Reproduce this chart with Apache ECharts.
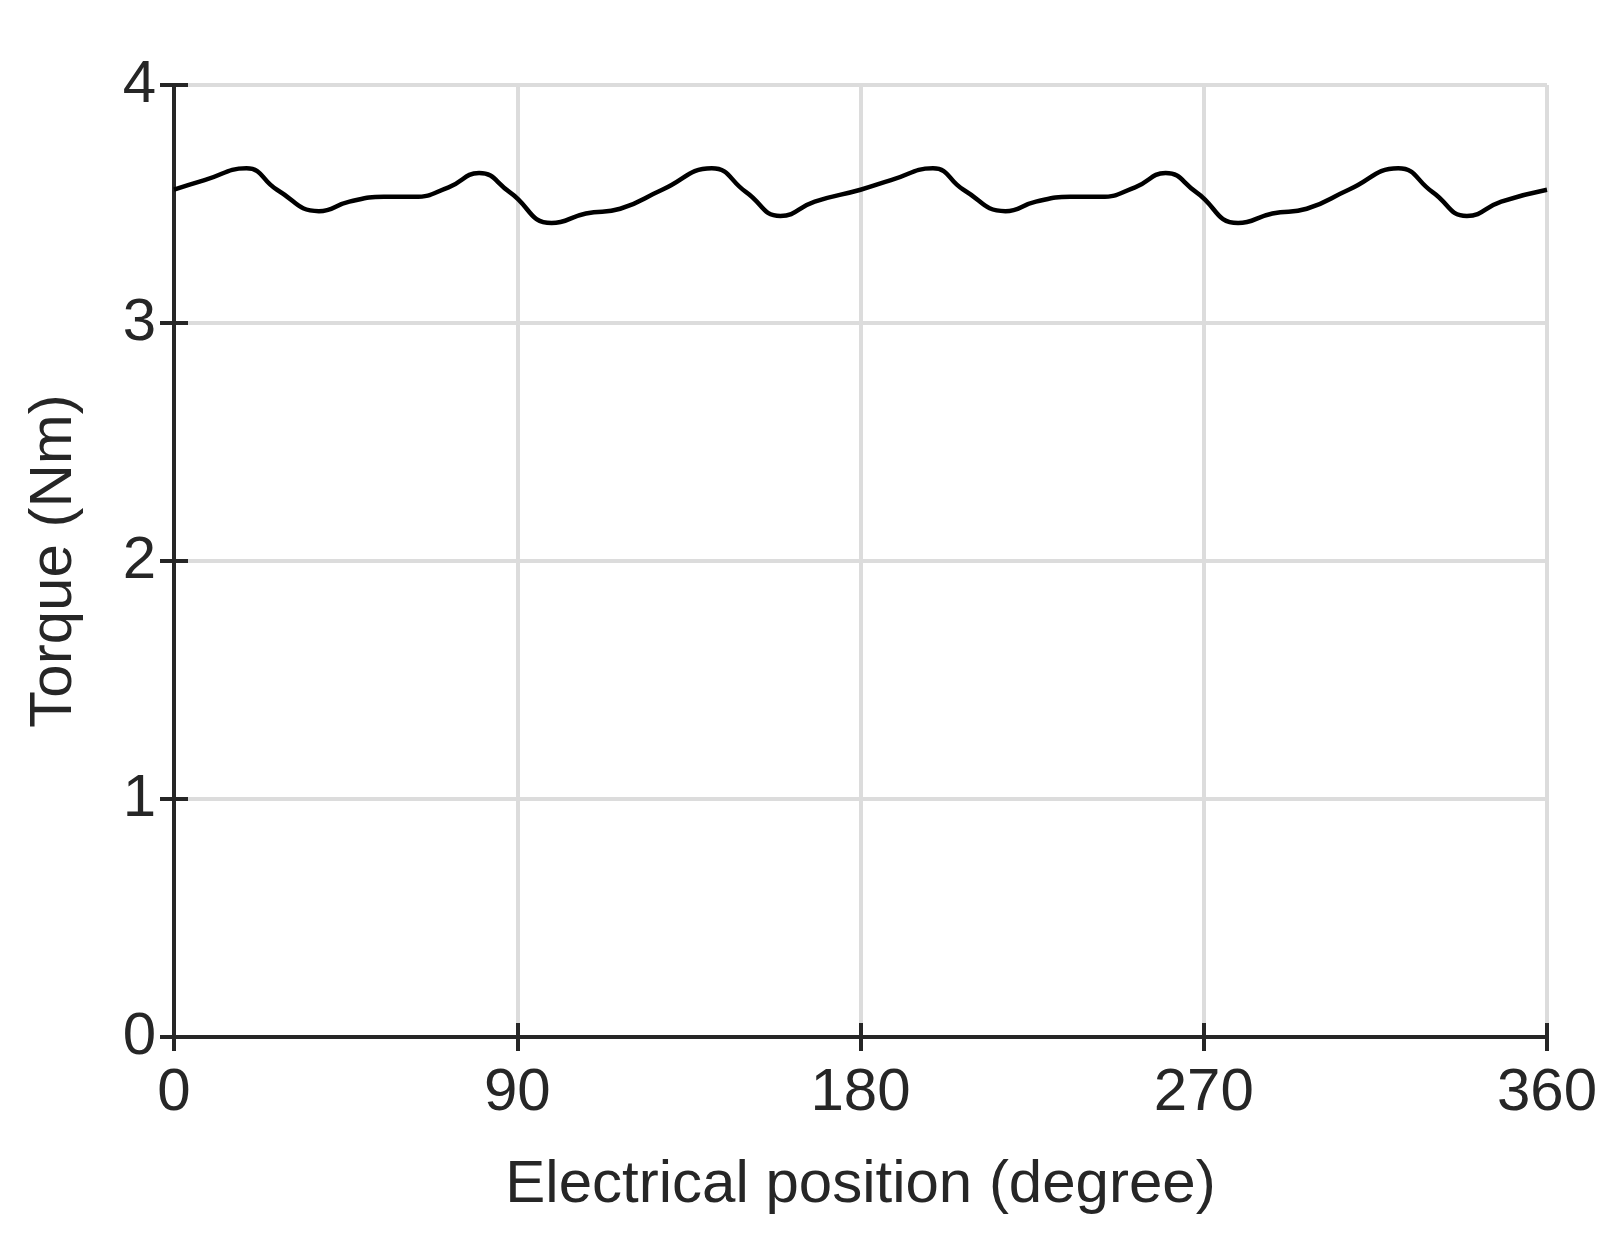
<!DOCTYPE html><html><head><meta charset="utf-8"><script src="https://cdn.jsdelivr.net/npm/echarts@6/dist/echarts.min.js"></script></head><body style="margin:0;background:#fff"><div id="c" style="width:1618px;height:1255px"></div><script>
const xDeg=[0,8,19,27,38,46,55,63,72,80,88,99,108,117,128,141,150,159,168,180,188,199,207,218,226,235,243,252,260,268,279,288,297,308,321,330,339,348,360];
const torque=[3.56,3.60,3.65,3.56,3.47,3.51,3.53,3.53,3.57,3.63,3.55,3.42,3.46,3.48,3.56,3.65,3.55,3.45,3.51,3.56,3.60,3.65,3.56,3.47,3.51,3.53,3.53,3.57,3.63,3.55,3.42,3.46,3.48,3.56,3.65,3.55,3.45,3.51,3.56];
const ch=echarts.init(document.getElementById('c'));
const ax={color:'#262626',width:4};
const F='Liberation Sans';
const sec={axisLine:{show:true,lineStyle:ax},axisTick:{inside:true,length:14,lineStyle:ax},axisLabel:{show:false},splitLine:{show:false}};
ch.setOption({animation:false,
grid:{left:174,right:71,top:85,bottom:218},
xAxis:[{type:'value',min:0,max:360,interval:90,name:'Electrical position (degree)',nameLocation:'middle',nameGap:118,nameTextStyle:{fontSize:60,color:'#262626',fontFamily:F},
axisLine:{lineStyle:ax},axisTick:{inside:true,length:14,lineStyle:ax},axisLabel:{fontSize:60,color:'#262626',margin:26,fontFamily:F},splitLine:{lineStyle:{color:'#dcdcdc',width:4}}},
Object.assign({type:'value',min:0,max:360,interval:90,position:'top'},sec)],
yAxis:[{type:'value',min:0,max:4,interval:1,name:'Torque (Nm)',nameLocation:'middle',nameGap:90,nameTextStyle:{fontSize:60,color:'#262626',fontFamily:F},
axisLine:{lineStyle:ax},axisTick:{inside:true,length:14,lineStyle:ax},axisLabel:{fontSize:60,color:'#262626',margin:18,fontFamily:F},splitLine:{lineStyle:{color:'#dcdcdc',width:4}}},
Object.assign({type:'value',min:0,max:4,interval:1,position:'right'},sec)],
series:[{type:'line',smooth:true,showSymbol:false,data:xDeg.map((x,i)=>[x,torque[i]]),lineStyle:{color:'#000',width:4.5}}]});
</script></body></html>
